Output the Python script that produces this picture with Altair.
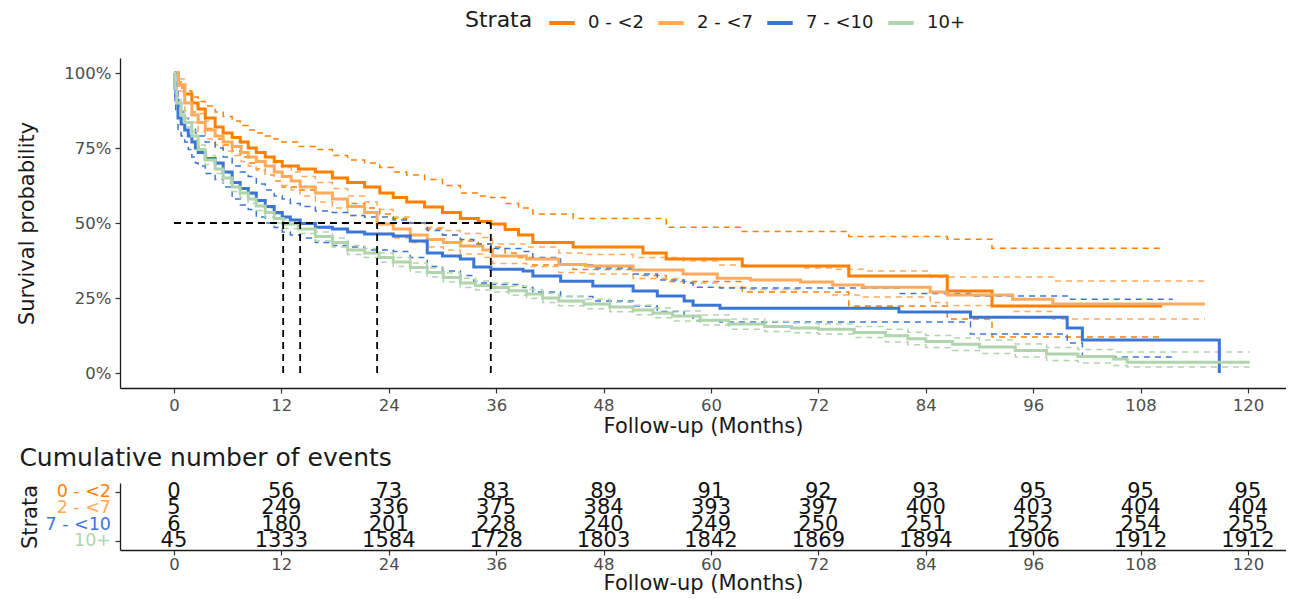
import altair as alt
import pandas as pd

FONT = "DejaVu Sans"
STRATA = ["0 - <2", "2 - <7", "7 - <10", "10+"]
COLORS = ["#FF7F00", "#FFAA5C", "#3B76D6", "#B0D4AC"]

# ---- Kaplan-Meier estimates (time in months) ----
T0 = [0, 0.5, 1.2, 2, 2.7, 3.5, 4.6, 5.5, 6.5, 7.4, 8.3, 9.2, 10.2, 11.2, 12.1, 13.9, 15.8, 17.7, 19.4, 21.3,
      23, 24.5, 26, 28, 30, 32, 34, 35.4, 37, 38.5, 40.1, 44.6, 52.4, 55, 63.5, 75.4, 86.4, 91.4, 110.4]
S0 = [1.0, 0.96, 0.93, 0.90, 0.88, 0.85, 0.82, 0.80, 0.785, 0.77, 0.75, 0.735, 0.72, 0.705, 0.69, 0.68, 0.67, 0.65, 0.635, 0.62,
      0.60, 0.585, 0.57, 0.553, 0.535, 0.515, 0.505, 0.497, 0.478, 0.46, 0.435, 0.42, 0.40, 0.38, 0.357, 0.323, 0.273, 0.223, 0.223]
U0 = [1.0, 0.97, 0.94, 0.92, 0.905, 0.89, 0.87, 0.855, 0.84, 0.825, 0.81, 0.80, 0.79, 0.78, 0.77, 0.755, 0.745, 0.725, 0.71, 0.70,
      0.685, 0.67, 0.66, 0.645, 0.625, 0.60, 0.59, 0.585, 0.565, 0.55, 0.53, 0.515, 0.515, 0.486, 0.472, 0.455, 0.446, 0.416, 0.416]
L0 = [1.0, 0.95, 0.91, 0.87, 0.845, 0.815, 0.78, 0.76, 0.74, 0.72, 0.70, 0.68, 0.66, 0.64, 0.62, 0.61, 0.60, 0.58, 0.565, 0.55,
      0.53, 0.515, 0.50, 0.48, 0.46, 0.44, 0.43, 0.42, 0.40, 0.385, 0.36, 0.345, 0.325, 0.305, 0.27, 0.223, 0.18, 0.12, 0.12]

T1 = [0, 0.5, 1.2, 2, 2.7, 3.5, 4.6, 5.5, 6.5, 7.5, 8.3, 9.2, 10.2, 11.2, 12.1, 13.1, 14.1, 15.8, 17.7, 19.4,
      21.3, 22.7, 24.5, 26.4, 28.3, 30.1, 32, 34.5, 35.6, 39.4, 43, 46, 51.3, 56.9, 60.7, 64.4, 70, 73.6, 77, 84.5,
      86.4, 93.7, 98.2, 115.2]
S1 = [1.0, 0.96, 0.90, 0.86, 0.835, 0.81, 0.79, 0.77, 0.755, 0.735, 0.72, 0.705, 0.69, 0.67, 0.655, 0.64, 0.62, 0.60, 0.58, 0.555,
      0.535, 0.497, 0.48, 0.46, 0.445, 0.435, 0.423, 0.41, 0.39, 0.38, 0.362, 0.357, 0.343, 0.33, 0.316, 0.31, 0.303, 0.293, 0.286, 0.27,
      0.26, 0.246, 0.23, 0.23]
U1 = [1.0, 0.98, 0.93, 0.89, 0.865, 0.84, 0.82, 0.80, 0.785, 0.765, 0.75, 0.735, 0.72, 0.70, 0.685, 0.67, 0.655, 0.635, 0.615, 0.59,
      0.57, 0.545, 0.52, 0.50, 0.485, 0.475, 0.465, 0.452, 0.43, 0.42, 0.40, 0.395, 0.385, 0.373, 0.36, 0.357, 0.35, 0.346, 0.34, 0.32,
      0.32, 0.32, 0.307, 0.307]
L1 = [1.0, 0.94, 0.875, 0.835, 0.805, 0.78, 0.76, 0.74, 0.725, 0.705, 0.69, 0.675, 0.66, 0.64, 0.625, 0.61, 0.59, 0.57, 0.55, 0.525,
      0.50, 0.465, 0.45, 0.435, 0.42, 0.41, 0.397, 0.385, 0.365, 0.355, 0.335, 0.33, 0.315, 0.30, 0.285, 0.278, 0.27, 0.26, 0.253, 0.235,
      0.225, 0.205, 0.18, 0.18]

T2 = [0, 0.1, 0.2, 0.45, 0.8, 1.2, 1.6, 2.0, 2.4, 2.7, 3.5, 4.6, 5.5, 6.5, 7.4, 8.3, 9.2, 10.2, 11.2, 12.1,
      13, 14.1, 15.8, 17.7, 19.4, 21.3, 24.5, 26.4, 28.3, 30, 32, 33.5, 35.4, 39, 40.1, 43.2, 46.8, 51.3, 54, 57,
      58, 61, 81, 89, 99.8, 101.5, 111.6, 116.8]
S2 = [1.0, 0.95, 0.91, 0.85, 0.83, 0.81, 0.79, 0.77, 0.75, 0.735, 0.715, 0.70, 0.67, 0.635, 0.615, 0.60, 0.575, 0.555, 0.535, 0.52,
      0.51, 0.498, 0.486, 0.48, 0.47, 0.463, 0.457, 0.44, 0.40, 0.39, 0.38, 0.353, 0.346, 0.34, 0.323, 0.306, 0.29, 0.273, 0.257, 0.24,
      0.226, 0.216, 0.203, 0.186, 0.15, 0.11, 0.11, 0.0]
U2 = [1.0, 0.98, 0.95, 0.89, 0.87, 0.85, 0.835, 0.82, 0.80, 0.79, 0.77, 0.75, 0.72, 0.69, 0.67, 0.655, 0.63, 0.61, 0.59, 0.58,
      0.565, 0.555, 0.54, 0.535, 0.525, 0.52, 0.51, 0.50, 0.475, 0.46, 0.445, 0.43, 0.415, 0.405, 0.385, 0.36, 0.35, 0.33, 0.31, 0.30,
      0.286, 0.283, 0.265, 0.257, 0.246, 0.246, 0.246, None]
L2 = [1.0, 0.92, 0.87, 0.81, 0.79, 0.77, 0.745, 0.72, 0.70, 0.69, 0.665, 0.645, 0.62, 0.58, 0.56, 0.545, 0.52, 0.50, 0.485, 0.47,
      0.46, 0.45, 0.435, 0.425, 0.42, 0.41, 0.405, 0.385, 0.355, 0.34, 0.325, 0.30, 0.295, 0.285, 0.27, 0.255, 0.24, 0.223, 0.205, 0.19,
      0.175, 0.17, 0.17, 0.13, 0.10, 0.053, 0.053, None]

T3 = [0, 0.1, 0.3, 0.8, 1.2, 2.0, 2.7, 3.5, 4.6, 5.5, 6.5, 7.4, 8.3, 9.2, 10.2, 11.2, 12.2, 13.9, 15.8, 17.7,
      19.4, 21.3, 22.9, 24.5, 26.4, 28.3, 30.1, 32, 33.7, 35.4, 37.4, 39.4, 41.2, 43, 45.8, 48.7, 51.3, 53.5, 55.7, 58.8,
      62, 66, 69, 72, 76, 79.5, 82, 84, 87, 90, 94, 97.5, 101, 105, 106.5, 120.2]
S3 = [1.0, 0.95, 0.90, 0.86, 0.835, 0.79, 0.745, 0.71, 0.68, 0.65, 0.62, 0.60, 0.58, 0.557, 0.535, 0.515, 0.497, 0.48, 0.455, 0.435,
      0.41, 0.40, 0.385, 0.37, 0.352, 0.335, 0.318, 0.30, 0.292, 0.285, 0.274, 0.263, 0.25, 0.24, 0.23, 0.22, 0.21, 0.20, 0.19, 0.176,
      0.163, 0.155, 0.15, 0.146, 0.135, 0.124, 0.114, 0.105, 0.096, 0.087, 0.075, 0.063, 0.055, 0.047, 0.036, 0.036]
U3 = [1.0, 0.96, 0.915, 0.875, 0.85, 0.805, 0.76, 0.725, 0.695, 0.665, 0.635, 0.615, 0.595, 0.572, 0.55, 0.53, 0.512, 0.495, 0.47, 0.45,
      0.425, 0.415, 0.40, 0.385, 0.367, 0.35, 0.333, 0.316, 0.307, 0.30, 0.289, 0.278, 0.266, 0.256, 0.246, 0.236, 0.226, 0.217, 0.207, 0.193,
      0.18, 0.172, 0.167, 0.163, 0.155, 0.146, 0.136, 0.125, 0.117, 0.11, 0.097, 0.085, 0.078, 0.07, 0.07, 0.07]
L3 = [1.0, 0.94, 0.885, 0.845, 0.82, 0.775, 0.73, 0.695, 0.665, 0.635, 0.605, 0.585, 0.565, 0.542, 0.52, 0.50, 0.482, 0.465, 0.44, 0.42,
      0.395, 0.385, 0.37, 0.355, 0.337, 0.32, 0.303, 0.285, 0.277, 0.27, 0.259, 0.248, 0.235, 0.224, 0.214, 0.204, 0.194, 0.184, 0.173, 0.16,
      0.146, 0.138, 0.134, 0.13, 0.118, 0.103, 0.094, 0.085, 0.075, 0.065, 0.053, 0.042, 0.033, 0.025, 0.02, 0.02]

MEDIANS = [35.4, 22.7, 14.1, 12.2]

# ---- risk table: cumulative number of events ----
TABLE_TIMES = [0, 12, 24, 36, 48, 60, 72, 84, 96, 108, 120]
EVENTS_0 = [0, 56, 73, 83, 89, 91, 92, 93, 95, 95, 95]
EVENTS_1 = [5, 249, 336, 375, 384, 393, 397, 400, 403, 404, 404]
EVENTS_2 = [6, 180, 201, 228, 240, 249, 250, 251, 252, 254, 255]
EVENTS_3 = [45, 1333, 1584, 1728, 1803, 1842, 1869, 1894, 1906, 1912, 1912]

# ---- build tables ----
curves = [(T0, S0, U0, L0), (T1, S1, U1, L1), (T2, S2, U2, L2), (T3, S3, U3, L3)]
surv_rows, ci_rows = [], []
for k, (name, (T, S, U, L)) in enumerate(zip(STRATA, curves)):
    for t, s, u, l in zip(T, S, U, L):
        surv_rows.append({"strata": name, "order": k, "t": t, "s": s})
        if u is not None:
            ci_rows.append({"strata": name, "grp": name + "_u", "t": t, "v": u})
        if l is not None:
            ci_rows.append({"strata": name, "grp": name + "_l", "t": t, "v": l})
surv = pd.DataFrame(surv_rows)
ci = pd.DataFrame(ci_rows)

hline = pd.DataFrame({"x": [0], "x2": [max(MEDIANS)], "y": [0.5]})
vlines = pd.DataFrame({"x": MEDIANS, "y": [0.0] * len(MEDIANS), "y2": [0.5] * len(MEDIANS)})

tab_rows = []
for k, (name, ev) in enumerate(zip(STRATA, [EVENTS_0, EVENTS_1, EVENTS_2, EVENTS_3])):
    for t, n in zip(TABLE_TIMES, ev):
        tab_rows.append({"strata": name, "idx": 4 - k, "t": t, "n": str(n)})
tab = pd.DataFrame(tab_rows)
lab = pd.DataFrame({"strata": STRATA, "idx": [4, 3, 2, 1], "col": COLORS})

W = 1166
xscale = alt.Scale(domain=[-6.03, 124.25], nice=False, zero=False)
legend = alt.Legend(title="Strata", orient="none", direction="horizontal",
                    legendX=345, legendY=-50, titleOrient="left", padding=0,
                    symbolType="stroke", symbolStrokeWidth=4, symbolSize=650,
                    titleFontSize=22, labelFontSize=18, titleFontWeight="normal",
                    titleColor="#1a1a1a", labelColor="#1a1a1a", titlePadding=14,
                    columnPadding=6, labelOffset=11, titleFont=FONT, labelFont=FONT)
color = alt.Color("strata:N", scale=alt.Scale(domain=STRATA, range=COLORS), legend=legend)

xax = alt.Axis(values=TABLE_TIMES, title="Follow-up (Months)", labelPadding=4, titlePadding=2)
yax = alt.Axis(values=[0, 0.25, 0.5, 0.75, 1.0], format=".0%", title="Survival probability",
               labelPadding=4, titlePadding=26)
yscale = alt.Scale(domain=[-0.05, 1.05], nice=False, zero=False)

ci_layer = alt.Chart(ci).mark_line(interpolate="step-after", strokeWidth=1.5, strokeDash=[6, 5]).encode(
    x=alt.X("t:Q", scale=xscale, axis=xax),
    y=alt.Y("v:Q", scale=yscale, axis=yax),
    color=color,
    detail="grp:N",
)
surv_layer = alt.Chart(surv).mark_line(interpolate="step-after", strokeWidth=3).encode(
    x=alt.X("t:Q", scale=xscale),
    y=alt.Y("s:Q", scale=yscale),
    color=color,
    order="order:Q",
)
h_layer = alt.Chart(hline).mark_rule(color="black", strokeWidth=1.8, strokeDash=[7, 5]).encode(
    x="x:Q", x2="x2:Q", y="y:Q")
v_layer = alt.Chart(vlines).mark_rule(color="black", strokeWidth=1.8, strokeDash=[7, 5]).encode(
    x="x:Q", y="y:Q", y2="y2:Q")

main = alt.layer(ci_layer, surv_layer, h_layer, v_layer).properties(width=W, height=330)

tyscale = alt.Scale(domain=[0.45, 4.55], nice=False, zero=False)
table_text = alt.Chart(tab).mark_text(fontSize=21, baseline="middle", color="#111111", font=FONT).encode(
    x=alt.X("t:Q", scale=xscale, axis=alt.Axis(values=TABLE_TIMES, title="Follow-up (Months)",
                                               labelPadding=1, titlePadding=0)),
    y=alt.Y("idx:Q", scale=tyscale, axis=alt.Axis(values=[1, 2, 3, 4], labels=False, title="Strata",
                                                  titlePadding=74)),
    text="n:N",
)
table_labels = alt.Chart(lab).mark_text(fontSize=17.5, align="right", baseline="middle", font=FONT).encode(
    x=alt.value(-9),
    y=alt.Y("idx:Q", scale=tyscale),
    text="strata:N",
    color=alt.Color("col:N", scale=None),
)
table = alt.layer(table_text, table_labels).properties(
    width=W, height=67,
    title=alt.TitleParams("Cumulative number of events", anchor="start", fontSize=25, fontWeight="normal",
                          font=FONT, color="#1a1a1a", offset=10),
)

chart = alt.vconcat(main, table, spacing=8).configure_view(stroke=None).configure_axis(
    grid=False, domainColor="#1a1a1a", domainWidth=1.3, tickColor="#333333", tickSize=5, tickWidth=1.2,
    labelColor="#4D4D4D", labelFont=FONT, labelFontSize=16.5, titleFont=FONT, titleFontSize=21,
    titleFontWeight="normal", titleColor="#1a1a1a",
).properties(padding={"left": 8, "top": 0, "right": 0, "bottom": 0})

chart.save("out.html", embed_options={"renderer": "svg", "actions": False})
